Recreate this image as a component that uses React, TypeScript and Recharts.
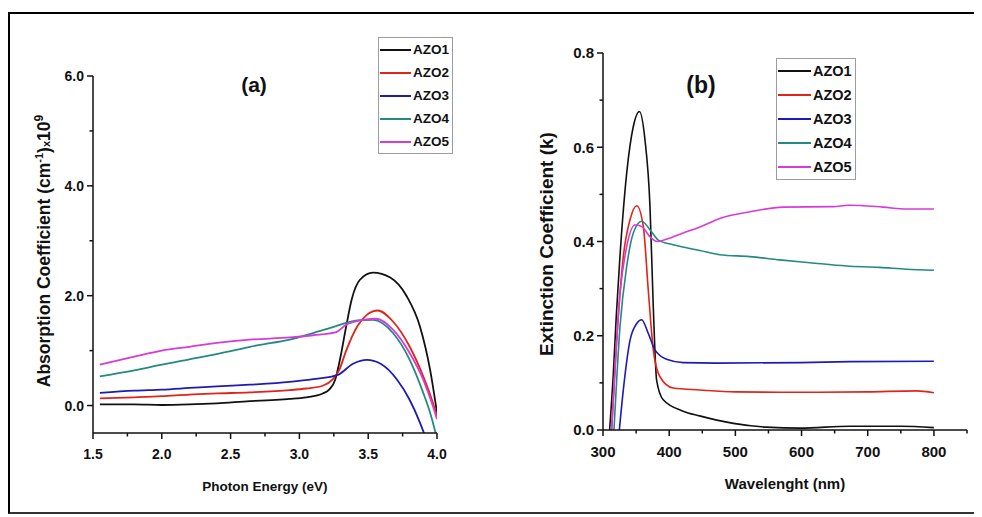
import React from 'react';
import { LineChart, Line, XAxis, YAxis, Legend } from 'recharts';

const FONT = "'Liberation Sans', Arial, Helvetica, sans-serif";
const INK = '#111111';

const seriesNames = ['AZO1', 'AZO2', 'AZO3', 'AZO4', 'AZO5'];
const seriesColors = ['#111111', '#e2231a', '#1c1cb4', '#228a82', '#d83ad8'];

// ---------- Panel (a): Absorption coefficient vs photon energy ----------
const energyA1 = [1.55, 1.8, 2.0, 2.2, 2.4, 2.64, 2.8, 2.93, 3.05, 3.17, 3.22, 3.26, 3.295, 3.34, 3.38, 3.44, 3.535, 3.66, 3.78, 3.876, 3.95, 4.0];
const absA1 = [0.02, 0.02, 0.01, 0.02, 0.04, 0.08, 0.1, 0.12, 0.15, 0.22, 0.3, 0.47, 0.84, 1.44, 1.93, 2.29, 2.42, 2.33, 1.99, 1.44, 0.65, -0.13];

const energyA2 = [1.55, 1.8, 2.0, 2.2, 2.4, 2.64, 2.93, 3.05, 3.17, 3.24, 3.29, 3.34, 3.42, 3.49, 3.57, 3.68, 3.8, 3.9, 3.97, 4.0];
const absA2 = [0.13, 0.15, 0.17, 0.2, 0.22, 0.24, 0.28, 0.31, 0.36, 0.47, 0.65, 1.0, 1.44, 1.65, 1.73, 1.53, 1.08, 0.53, 0.05, -0.2];

const energyA3 = [1.55, 1.8, 2.0, 2.2, 2.4, 2.64, 2.93, 3.1, 3.28, 3.39, 3.49, 3.59, 3.71, 3.8, 3.876, 3.92];
const absA3 = [0.23, 0.27, 0.29, 0.32, 0.35, 0.38, 0.43, 0.48, 0.56, 0.76, 0.83, 0.76, 0.47, 0.11, -0.31, -0.6];

const energyA4 = [1.55, 1.8, 2.0, 2.2, 2.5, 2.64, 2.8, 2.93, 3.1, 3.26, 3.42, 3.535, 3.68, 3.8, 3.9, 3.95, 4.0];
const absA4 = [0.53, 0.64, 0.745, 0.84, 0.99, 1.07, 1.14, 1.2, 1.32, 1.44, 1.55, 1.56, 1.32, 0.84, 0.23, -0.13, -0.6];

const energyA5 = [1.55, 1.8, 2.0, 2.2, 2.4, 2.64, 2.93, 3.1, 3.26, 3.34, 3.44, 3.56, 3.68, 3.8, 3.9, 3.97, 4.0];
const absA5 = [0.745, 0.89, 1.0, 1.07, 1.14, 1.2, 1.24, 1.28, 1.33, 1.47, 1.55, 1.58, 1.38, 0.96, 0.47, -0.01, -0.25];

const xTicksA = [1.5, 1.75, 2.0, 2.25, 2.5, 2.75, 3.0, 3.25, 3.5, 3.75, 4.0];
const yTicksA = [0, 1, 2, 3, 4, 5, 6];

// ---------- Panel (b): Extinction coefficient vs wavelength ----------
const waveB1 = [310, 315.6, 320, 325.7, 335.8, 345.8, 355, 363.4, 371, 376, 381, 391, 421, 446, 472, 497, 547, 598, 673, 749, 800];
const extB1 = [0, 0.12, 0.24, 0.37, 0.545, 0.644, 0.676, 0.616, 0.474, 0.26, 0.106, 0.064, 0.04, 0.03, 0.021, 0.014, 0.006, 0.004, 0.008, 0.008, 0.005];

const waveB2 = [313, 320.7, 330.7, 340.8, 351, 360.9, 368.4, 376, 386, 406, 446, 500, 598, 700, 774, 800];
const extB2 = [0, 0.19, 0.368, 0.446, 0.476, 0.432, 0.297, 0.17, 0.113, 0.089, 0.085, 0.081, 0.08, 0.081, 0.083, 0.079];

const waveB3 = [324.7, 330.7, 340.8, 351, 358.4, 368.4, 378.5, 396, 421, 472, 598, 673, 800];
const extB3 = [0, 0.085, 0.19, 0.226, 0.234, 0.205, 0.17, 0.15, 0.143, 0.142, 0.143, 0.145, 0.146];

const waveB4 = [316.6, 325.7, 335.8, 345.8, 358.4, 371, 383.5, 406, 446.5, 476.7, 522, 567, 612.7, 668, 718, 758.7, 800];
const extB4 = [0, 0.22, 0.347, 0.418, 0.443, 0.425, 0.403, 0.393, 0.381, 0.372, 0.368, 0.361, 0.355, 0.348, 0.345, 0.341, 0.339];

const waveB5 = [313, 325.7, 335.8, 348.3, 358.4, 371, 382, 396, 421, 446.5, 476.7, 522, 572, 648, 671, 723, 758.7, 800];
const extB5 = [0, 0.29, 0.389, 0.435, 0.432, 0.41, 0.4, 0.405, 0.418, 0.431, 0.449, 0.463, 0.473, 0.474, 0.477, 0.473, 0.469, 0.469];

const xTicksB = [300, 350, 400, 450, 500, 550, 600, 650, 700, 750, 800, 850];
const yTicksB = [0, 0.1, 0.2, 0.3, 0.4, 0.5, 0.6, 0.7, 0.8];

const toPoints = (xs: number[], ys: number[]) => xs.map((x, i) => ({ x, y: ys[i] }));

const seriesA = [
  toPoints(energyA1, absA1),
  toPoints(energyA2, absA2),
  toPoints(energyA3, absA3),
  toPoints(energyA4, absA4),
  toPoints(energyA5, absA5),
];
const seriesB = [
  toPoints(waveB1, extB1),
  toPoints(waveB2, extB2),
  toPoints(waveB3, extB3),
  toPoints(waveB4, extB4),
  toPoints(waveB5, extB5),
];

// ---------- ticks ----------
const BottomTick = (props: any) => {
  const { x, y, payload, isMajor, fmt, fontSize, labelDy } = props;
  const v = payload.value;
  const major = isMajor(v);
  return (
    <g>
      <line x1={x} y1={y} x2={x} y2={y + (major ? 6 : 3.5)} stroke={INK} strokeWidth={1.5} />
      {major ? (
        <text x={x} y={y + labelDy} textAnchor="middle" fontFamily={FONT} fontWeight="bold" fontSize={fontSize} fill={INK}>
          {fmt(v)}
        </text>
      ) : null}
    </g>
  );
};

const LeftTick = (props: any) => {
  const { x, y, payload, isMajor, fmt, fontSize } = props;
  const v = payload.value;
  const major = isMajor(v);
  return (
    <g>
      <line x1={x - (major ? 6 : 3.5)} y1={y} x2={x} y2={y} stroke={INK} strokeWidth={1.5} />
      {major ? (
        <text x={x - 9} y={y} dy="0.36em" textAnchor="end" fontFamily={FONT} fontWeight="bold" fontSize={fontSize} fill={INK}>
          {fmt(v)}
        </text>
      ) : null}
    </g>
  );
};

// ---------- legend ----------
const LegendBox = (props: any) => {
  const { payload, rowH, lineW, fontSize } = props;
  return (
    <div
      style={{
        border: '1px solid #9c9c9c',
        background: '#ffffff',
        padding: '0 3px 0 1px',
        display: 'inline-block',
      }}
    >
      {(payload || []).map((e: any) => (
        <div key={e.value} style={{ display: 'flex', alignItems: 'center', height: rowH }}>
          <svg width={lineW} height={4} style={{ display: 'block' }}>
            <line x1={0} y1={2} x2={lineW} y2={2} stroke={e.color} strokeWidth={2} />
          </svg>
          <span
            style={{
              marginLeft: 2,
              fontFamily: FONT,
              fontWeight: 'bold',
              fontSize,
              color: INK,
              lineHeight: `${rowH}px`,
            }}
          >
            {e.value}
          </span>
        </div>
      ))}
    </div>
  );
};

const axisLineStyle = { stroke: INK, strokeWidth: 1.5 };

const isHalf = (v: number) => Math.abs(v * 2 - Math.round(v * 2)) < 1e-6;
const isInt = (v: number) => Math.abs(v - Math.round(v)) < 1e-6 && Math.round(v) % 2 === 0;
const isHundred = (v: number) => Math.round(v) % 100 === 0 && v <= 800;
const isEvenTenth = (v: number) => Math.round(v * 10) % 2 === 0;

export default function App() {
  return (
    <div style={{ position: 'relative', width: 974, height: 509, fontFamily: FONT, background: '#ffffff' }}>
      {/* outer frame */}
      <div
        style={{
          position: 'absolute',
          left: 0,
          top: 4,
          width: 974,
          height: 502,
          boxSizing: 'border-box',
          borderTop: '2px solid #000',
          borderLeft: '2px solid #000',
          borderBottom: '2px solid #333',
        }}
      />

      {/* Panel (a) */}
      <div style={{ position: 'absolute', left: 0, top: 0 }}>
        <LineChart width={482} height={509} margin={{ top: 68, right: 53, bottom: 24, left: 0 }}>
          <XAxis
            dataKey="x"
            type="number"
            domain={[1.5, 4.0]}
            ticks={xTicksA}
            interval={0}
            allowDataOverflow
            height={60}
            tickSize={0}
            tickMargin={0}
            tickLine={false}
            axisLine={axisLineStyle}
            tick={(p: any) => (
              <BottomTick {...p} isMajor={isHalf} fmt={(v: number) => v.toFixed(1)} fontSize={14} labelDy={26} />
            )}
          />
          <YAxis
            dataKey="y"
            type="number"
            domain={[-0.5, 6]}
            ticks={yTicksA}
            interval={0}
            allowDataOverflow
            width={85}
            tickSize={0}
            tickMargin={0}
            tickLine={false}
            axisLine={axisLineStyle}
            tick={(p: any) => (
              <LeftTick {...p} isMajor={isInt} fmt={(v: number) => v.toFixed(1)} fontSize={14} />
            )}
          />
          <Legend
            layout="vertical"
            align="center"
            verticalAlign="middle"
            wrapperStyle={{ position: 'absolute', left: 370, top: 29, width: 'auto', height: 'auto' }}
            content={(p: any) => <LegendBox {...p} rowH={23} lineW={31} fontSize={13.5} />}
          />
          {seriesA.map((pts, i) => (
            <Line
              key={seriesNames[i]}
              data={pts}
              dataKey="y"
              name={seriesNames[i]}
              type="monotone"
              stroke={seriesColors[i]}
              strokeWidth={1.8}
              dot={false}
              activeDot={false}
              isAnimationActive={false}
            />
          ))}
        </LineChart>
      </div>

      {/* Panel (b) */}
      <div style={{ position: 'absolute', left: 482, top: 0 }}>
        <LineChart width={484} height={509} margin={{ top: 45, right: 7, bottom: 27, left: 0 }}>
          <XAxis
            dataKey="x"
            type="number"
            domain={[300, 850]}
            ticks={xTicksB}
            interval={0}
            allowDataOverflow
            height={60}
            tickSize={0}
            tickMargin={0}
            tickLine={false}
            axisLine={axisLineStyle}
            tick={(p: any) => (
              <BottomTick {...p} isMajor={isHundred} fmt={(v: number) => String(v)} fontSize={15} labelDy={27} />
            )}
          />
          <YAxis
            dataKey="y"
            type="number"
            domain={[0, 0.8]}
            ticks={yTicksB}
            interval={0}
            allowDataOverflow
            width={113}
            tickSize={0}
            tickMargin={0}
            tickLine={false}
            axisLine={axisLineStyle}
            tick={(p: any) => (
              <LeftTick {...p} isMajor={isEvenTenth} fmt={(v: number) => v.toFixed(1)} fontSize={15} />
            )}
          />
          <Legend
            layout="vertical"
            align="center"
            verticalAlign="middle"
            wrapperStyle={{ position: 'absolute', left: 286, top: 50, width: 'auto', height: 'auto' }}
            content={(p: any) => <LegendBox {...p} rowH={24} lineW={33} fontSize={14.5} />}
          />
          {seriesB.map((pts, i) => (
            <Line
              key={seriesNames[i]}
              data={pts}
              dataKey="y"
              name={seriesNames[i]}
              type="monotone"
              stroke={seriesColors[i]}
              strokeWidth={1.6}
              dot={false}
              activeDot={false}
              isAnimationActive={false}
            />
          ))}
        </LineChart>
      </div>

      {/* titles */}
      <svg
        width={974}
        height={509}
        style={{ position: 'absolute', left: 0, top: 0, pointerEvents: 'none' }}
      >
        <g fontFamily={FONT} fontWeight="bold" fill={INK}>
          <text x={246} y={84} textAnchor="middle" fontSize={21}>(a)</text>
          <text x={693} y={85} textAnchor="middle" fontSize={23}>(b)</text>
          <text x={257} y={483} textAnchor="middle" fontSize={13.5}>Photon Energy (eV)</text>
          <text x={777} y={481} textAnchor="middle" fontSize={15}>Wavelenght (nm)</text>
          <text x={42} y={243} textAnchor="middle" fontSize={17.5} transform="rotate(-90, 42, 243)">
            Absorption Coefficient (cm
            <tspan fontSize={11} dy={-7}>-1</tspan>
            <tspan dy={7}>)</tspan>
            <tspan fontSize={11}>x</tspan>
            <tspan>10</tspan>
            <tspan fontSize={12} dy={-7}>9</tspan>
          </text>
          <text x={545} y={236} textAnchor="middle" fontSize={19} transform="rotate(-90, 545, 236)">
            Extinction Coefficient (k)
          </text>
        </g>
      </svg>
    </div>
  );
}
